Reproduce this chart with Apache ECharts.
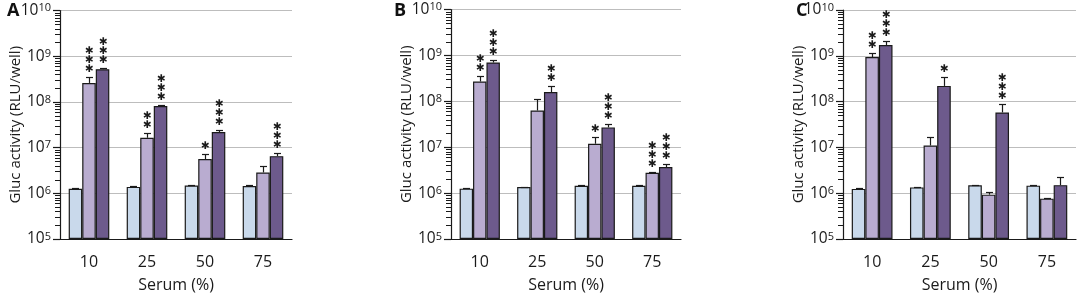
<!DOCTYPE html>
<html>
<head>
<meta charset="utf-8">
<script src="https://cdn.jsdelivr.net/npm/echarts@6/dist/echarts.min.js"></script>
<style>
  html, body { margin: 0; padding: 0; background: #fff; }
  #chart { width: 1078px; height: 295px; }
</style>
</head>
<body>
<div id="chart"></div>
<script>
const categories = ['10', '25', '50', '75']
const panelLabels = ['A', 'B', 'C']

// panel A
const ctrlA = [1.25e6, 1.38e6, 1.48e6, 1.45e6]
const lowA = [2.6e8, 1.64e7, 5.6e6, 2.86e6]
const highA = [5.2e8, 8.1e7, 2.2e7, 6.5e6]
const ctrlErrA = [1.32e6, 1.43e6, 1.53e6, 1.5e6]
const lowErrA = [3.5e8, 2.1e7, 7.3e6, 3.9e6]
const highErrA = [5.6e8, 8.4e7, 2.45e7, 7.7e6]
const lowStarsA = ['***', '**', '*', '']
const highStarsA = ['***', '***', '***', '***']

// panel B
const ctrlB = [1.25e6, 1.35e6, 1.45e6, 1.45e6]
const lowB = [2.7e8, 6.3e7, 1.19e7, 2.76e6]
const highB = [7.0e8, 1.59e8, 2.7e7, 3.7e6]
const ctrlErrB = [1.3e6, 1.39e6, 1.49e6, 1.49e6]
const lowErrB = [3.5e8, 1.14e8, 1.67e7, 2.9e6]
const highErrB = [7.9e8, 2.2e8, 3.2e7, 4.2e6]
const lowStarsB = ['**', '', '*', '***']
const highStarsB = ['***', '**', '***', '***']

// panel C
const ctrlC = [1.24e6, 1.34e6, 1.49e6, 1.46e6]
const lowC = [9.4e8, 1.1e7, 9.3e5, 7.6e5]
const highC = [1.72e9, 2.2e8, 5.8e7, 1.5e6]
const ctrlErrC = [1.3e6, 1.38e6, 1.53e6, 1.5e6]
const lowErrC = [1.15e9, 1.69e7, 1.07e6, 7.8e5]
const highErrC = [2.1e9, 3.4e8, 8.7e7, 2.3e6]
const lowStarsC = ['**', '', '', '']
const highStarsC = ['***', '*', '***', '']

const panels = [
  { bars: [ctrlA, lowA, highA], errs: [ctrlErrA, lowErrA, highErrA], stars: [null, lowStarsA, highStarsA] },
  { bars: [ctrlB, lowB, highB], errs: [ctrlErrB, lowErrB, highErrB], stars: [null, lowStarsB, highStarsB] },
  { bars: [ctrlC, lowC, highC], errs: [ctrlErrC, lowErrC, highErrC], stars: [null, lowStarsC, highStarsC] }
]

const grids = [
  { left: 60, top: 10.5, width: 232, height: 228.5, outerBoundsMode: 'none' },
  { left: 451, top: 9.5, width: 230, height: 229.5, outerBoundsMode: 'none' },
  { left: 843, top: 10, width: 233, height: 229, outerBoundsMode: 'none' }
]
const titleLeft = [7, 394, 796]

const barColors = ['#c9d9eb', '#b9acd0', '#6d5a8c']
const catGap = 0.3
const font = '"Open Sans", sans-serif'
const textColor = '#1a1a1a'

const chart = echarts.init(document.getElementById('chart'))

const xAxes = []
const yAxes = []
const series = []

panels.forEach((p, gi) => {
  xAxes.push({
    type: 'category',
    gridIndex: gi,
    data: categories,
    name: 'Serum (%)',
    nameLocation: 'middle',
    nameGap: 38,
    nameMoveOverlap: false,
    nameTextStyle: { fontSize: 16, color: textColor, fontFamily: font },
    axisLine: { onZero: false, lineStyle: { color: '#1a1a1a', width: 1.2 } },
    axisTick: { length: 5, lineStyle: { color: '#1a1a1a' } },
    axisLabel: { fontSize: 16, color: textColor, fontFamily: font, margin: 15 }
  })
  yAxes.push({
    type: 'log',
    logBase: 10,
    gridIndex: gi,
    min: 1e5,
    max: 1e10,
    startValue: 1e5,
    name: 'Gluc activity (RLU/well)',
    nameLocation: 'middle',
    nameGap: 37,
    nameMoveOverlap: false,
    nameTextStyle: { fontSize: 15, color: textColor, fontFamily: font },
    axisLine: { show: true, onZero: false, lineStyle: { color: '#1a1a1a', width: 1.2 } },
    axisTick: { show: true, length: 7, lineStyle: { color: '#1a1a1a', width: 1.2 } },
    splitLine: { lineStyle: { color: '#bdbdbd', width: 1 } },
    axisLabel: {
      margin: 9,
      formatter: (v) => '{b|10}{s|' + Math.round(Math.log10(v)) + '}',
      rich: {
        b: { fontSize: 15.5, color: textColor, fontFamily: font, lineHeight: 16 },
        s: { fontSize: 11, color: textColor, fontFamily: font, lineHeight: 10, verticalAlign: 'top' }
      }
    }
  })

  p.bars.forEach((vals, k) => {
    series.push({
      type: 'bar',
      xAxisIndex: gi,
      yAxisIndex: gi,
      data: vals,
      barGap: 0,
      barCategoryGap: catGap * 100 + '%',
      itemStyle: { color: barColors[k], borderColor: '#1a1a1a', borderWidth: 1.2 },
      silent: true
    })
  })

  // error bars and significance stars
  const rows = []
  p.errs.forEach((errs, k) => {
    errs.forEach((e, ci) => {
      rows.push({ value: [ci, e, p.bars[k][ci], k], stars: p.stars[k] ? p.stars[k][ci] : '' })
    })
  })
  series.push({
    type: 'custom',
    xAxisIndex: gi,
    yAxisIndex: gi,
    data: rows.map((r) => r.value),
    encode: { x: 0, y: 1 },
    z: 5,
    silent: true,
    renderItem: (params, api) => {
      const row = rows[params.dataIndex]
      const ci = api.value(0)
      const band = api.size([1, 0])[0]
      const bw = band * (1 - catGap) / 3
      const base = api.coord([ci, api.value(2)])
      const top = api.coord([ci, api.value(1)])
      const x = Math.round(base[0] + (api.value(3) - 1) * bw) + 0.5
      const yTop = Math.round(top[1]) + 0.5
      const children = [
        { type: 'line', shape: { x1: x, y1: base[1], x2: x, y2: yTop }, style: { stroke: '#1a1a1a', lineWidth: 1.2 } },
        { type: 'line', shape: { x1: x - 3.5, y1: yTop, x2: x + 3.5, y2: yTop }, style: { stroke: '#1a1a1a', lineWidth: 1.2 } }
      ]
      if (row.stars) {
        children.push({
          type: 'text',
          x: x,
          y: yTop - 4,
          style: {
            text: row.stars.split('').map(() => '✱').join('\n'),
            fontSize: 10.5,
            lineHeight: 9,
            fontFamily: 'DejaVu Sans',
            fill: '#1a1a1a',
            align: 'center',
            verticalAlign: 'bottom'
          }
        })
      }
      return { type: 'group', children: children }
    }
  })

  // logarithmic minor ticks on the value axis
  series.push({
    type: 'custom',
    xAxisIndex: gi,
    yAxisIndex: gi,
    data: [[0, 1e6]],
    z: 6,
    clip: false,
    silent: true,
    renderItem: (params, api) => {
      const left = params.coordSys.x
      const children = []
      for (let d = 5; d < 10; d++) {
        for (let m = 2; m <= 9; m++) {
          const y = Math.round(api.coord([0, m * Math.pow(10, d)])[1]) + 0.5
          children.push({ type: 'line', shape: { x1: left - 5, y1: y, x2: left, y2: y }, style: { stroke: '#1a1a1a', lineWidth: 1 } })
        }
      }
      return { type: 'group', children: children }
    }
  })
})

chart.setOption({
  animation: false,
  backgroundColor: '#fff',
  title: panelLabels.map((t, i) => ({
    text: t,
    left: titleLeft[i],
    top: 2,
    padding: 0,
    textStyle: { fontSize: 18, fontWeight: 'bold', color: '#111', fontFamily: '"Open Sans", sans-serif' }
  })),
  grid: grids,
  xAxis: xAxes,
  yAxis: yAxes,
  series: series
})
</script>
</body>
</html>
